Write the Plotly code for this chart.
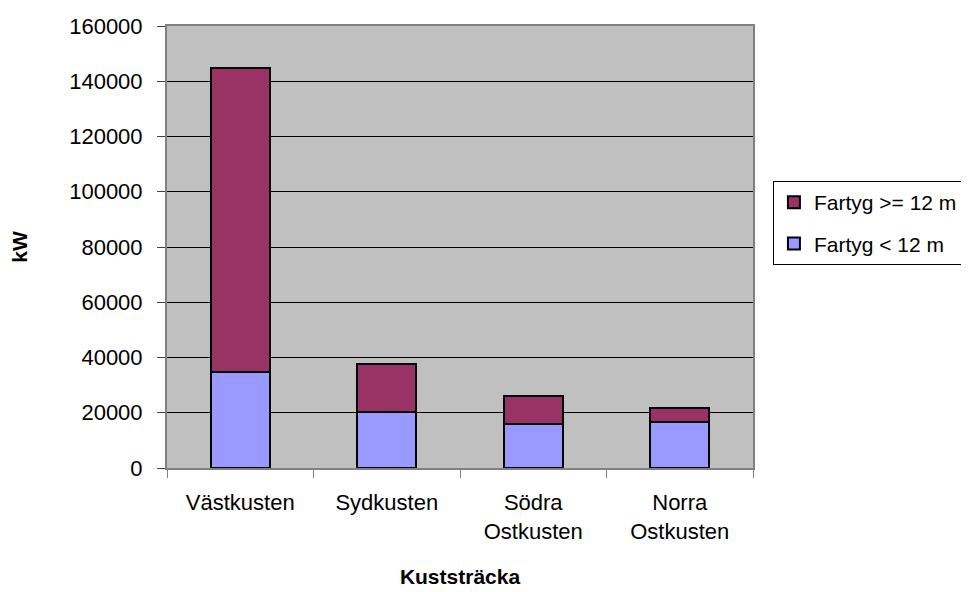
import plotly.graph_objects as go

categories = ["Västkusten", "Sydkusten", "Södra<br>Ostkusten", "Norra<br>Ostkusten"]
fartyg_lt12 = [34800, 20100, 15900, 16500]
fartyg_ge12 = [109900, 17700, 10100, 5200]
y_ticks = [0, 20000, 40000, 60000, 80000, 100000, 120000, 140000, 160000]

font = "Liberation Sans, Arial, sans-serif"

fig = go.Figure()
fig.add_trace(go.Bar(x=categories, y=fartyg_lt12, name="Fartyg < 12 m", legendgroup="a",
                     legendrank=2,
                     marker=dict(color="#9999FF", line=dict(color="black", width=2))))
fig.add_trace(go.Bar(x=categories, y=fartyg_ge12, name="Fartyg >= 12 m", legendgroup="b",
                     legendrank=1,
                     marker=dict(color="#993366", line=dict(color="black", width=2))))

fig.update_layout(
    width=975, height=584,
    barmode="stack", bargap=0.6,
    paper_bgcolor="white", plot_bgcolor="#C0C0C0",
    margin=dict(l=159, r=230, t=18, b=124),
    font=dict(family=font, size=22, color="black"),
    legend=dict(x=1.034, y=0.649, xanchor="left", yanchor="top",
                traceorder="grouped", bgcolor="white", bordercolor="black",
                borderwidth=1, font=dict(size=21, family=font), itemwidth=30,
                tracegroupgap=11),
    showlegend=True,
)
fig.update_xaxes(
    title=dict(text="<b>Kuststräcka</b>", font=dict(size=21), standoff=26),
    showline=True, linecolor="#808080", linewidth=2, mirror=True,
    ticks="outside", tickson="boundaries", ticklen=8, tickcolor="#808080",
    tickfont=dict(size=22), showgrid=False, ticklabelstandoff=14,
    automargin=False,
)
fig.update_yaxes(
    title=dict(text="<b>kW</b>", font=dict(size=21), standoff=42),
    range=[0, 160000], tickvals=y_ticks, ticktext=[str(v) for v in y_ticks],
    showline=True, linecolor="#808080", linewidth=2, mirror=True,
    ticks="outside", ticklen=8, tickcolor="#404040",
    showgrid=True, gridcolor="black", gridwidth=1,
    tickfont=dict(size=22), zeroline=False, ticklabelstandoff=10,
    automargin=False,
)

fig.write_html("out.html")
